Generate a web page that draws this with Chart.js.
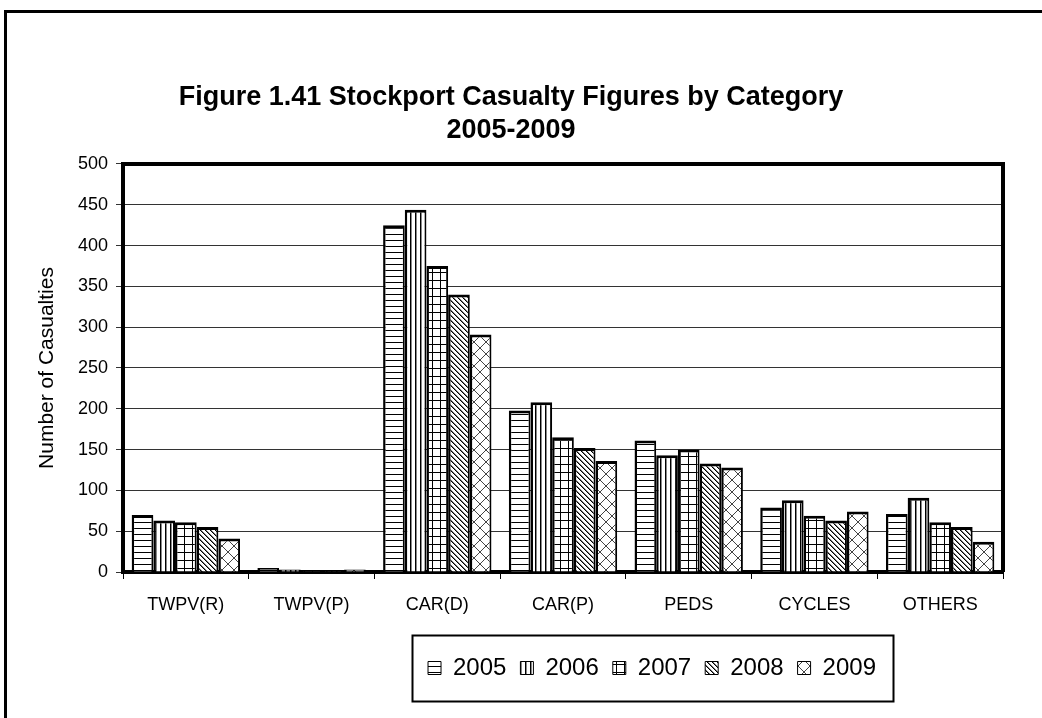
<!DOCTYPE html>
<html>
<head>
<meta charset="utf-8">
<script src="https://cdn.jsdelivr.net/npm/chart.js@4.4.0/dist/chart.umd.min.js"></script>
<style>
    html, body { margin: 0; padding: 0; background: #fff; }
</style>
</head>
<body>
<canvas id="myChartCasualty" width="1042" height="718"></canvas>
<script>

const categories = ['TWPV(R)', 'TWPV(P)', 'CAR(D)', 'CAR(P)', 'PEDS', 'CYCLES', 'OTHERS'];
const years = ['2005', '2006', '2007', '2008', '2009'];

const cas2005 = [70, 5, 425, 198, 161, 79, 71];
const cas2006 = [63, 3, 444, 208, 143, 88, 91];
const cas2007 = [61, 1, 375, 165, 150, 69, 61];
const cas2008 = [55, 1, 340, 152, 133, 63, 55];
const cas2009 = [41, 3, 291, 136, 128, 74, 37];

const yMin = 0;
const yMax = 500;
const yStep = 50;

const titleLines = ['Figure 1.41 Stockport Casualty Figures by Category', '2005-2009'];
const yTitle = 'Number of Casualties';

const FONT = "'Liberation Sans', Arial, sans-serif";

// fill patterns, one per year (excel style hatching)
function makePattern(kind) {
    const c = document.createElement('canvas');
    const g = c.getContext('2d');
    let s = 6;
    if (kind === 'horiz') s = 6;
    if (kind === 'vert') s = 5;
    if (kind === 'grid') s = 8;
    if (kind === 'diag') s = 5;
    if (kind === 'cross') s = 12;
    c.width = s; c.height = s;
    g.fillStyle = '#fff';
    g.fillRect(0, 0, s, s);
    g.fillStyle = '#000';
    if (kind === 'horiz') {
        g.fillRect(0, 0, s, 1);
    } else if (kind === 'vert') {
        g.fillRect(0, 0, 1, s);
        g.fillStyle = '#888';
        g.fillRect(1, 0, 1, s);
    } else if (kind === 'grid') {
        g.fillRect(0, 0, s, 1);
        g.fillRect(0, 0, 1, s);
    } else if (kind === 'diag') {
        for (let i = 0; i < s; i++) {
            g.fillStyle = '#000';
            g.fillRect(i, i, 1, 1);
            g.fillStyle = '#777';
            g.fillRect((i + 1) % s, i, 1, 1);
        }
    } else if (kind === 'cross') {
        g.fillStyle = '#444';
        for (let i = 0; i < s; i++) {
            g.fillRect(i, i, 1, 1);
            g.fillRect(s - 1 - i, i, 1, 1);
        }
    }
    return g.createPattern(c, 'repeat');
}

const patterns = [makePattern('horiz'), makePattern('vert'), makePattern('grid'), makePattern('diag'), makePattern('cross')];
const seriesData = [cas2005, cas2006, cas2007, cas2008, cas2009];

const framePlugin = {
    id: 'frame',
    beforeDraw(chart) {
        const c = chart.ctx;
        c.save();
        c.fillStyle = '#fff';
        c.fillRect(0, 0, chart.width, chart.height);
        c.strokeStyle = '#000';
        c.lineWidth = 3;
        c.strokeRect(5.5, 11.5, 1200, 900);
        c.restore();
    },
    afterDraw(chart) {
        const c = chart.ctx;
        const a = chart.chartArea;
        c.save();
        c.strokeStyle = '#000';
        c.lineWidth = 4;
        c.beginPath();
        c.moveTo(a.left, a.top);
        c.lineTo(a.right, a.top);
        c.lineTo(a.right, a.bottom);
        c.stroke();
        // box around legend
        const lg = chart.legend;
        if (lg && lg.legendHitBoxes.length) {
            const hb = lg.legendHitBoxes;
            const l = Math.min(...hb.map(h => h.left));
            const r = Math.max(...hb.map(h => h.left + h.width));
            const cx = (l + r) / 2;
            const cy = hb[0].top + hb[0].height / 2;
            c.lineWidth = 2;
            c.strokeRect(Math.round(cx - 240.5) + 0.5, Math.round(cy - 33) + 0.5, 481, 66);
        }
        c.restore();
    }
};

// move legend and title sideways, like the excel one
const shiftBoxes = {
    id: 'shiftBoxes',
    afterLayout(chart) {
        const lg = chart.legend;
        const dx = 652 - (lg.left + lg.right) / 2;
        lg.left += dx;
        lg.right += dx;
        const tb = chart.titleBlock;
        if (tb) {
            const tx = 511 - (tb.left + tb.right) / 2;
            tb.left += tx;
            tb.right += tx;
        }
    }
};

const ctxCas = document.getElementById('myChartCasualty').getContext('2d');
const myChartCas = new Chart(ctxCas, {
    type: 'bar',
    data: {
        labels: categories,
        datasets: years.map((y, i) => ({
            label: y,
            data: seriesData[i],
            backgroundColor: patterns[i],
            borderColor: '#000',
            borderWidth: { top: 3, left: 2.5, right: 2, bottom: 0 },
            borderSkipped: 'start',
            categoryPercentage: 0.862,
            barPercentage: 1.0
        }))
    },
    options: {
        responsive: false,
        animation: false,
        events: [],
        layout: { padding: { left: 0, right: 39, top: 0, bottom: 28 } },
        plugins: {
            title: {
                display: true,
                text: titleLines,
                color: '#000',
                font: { family: FONT, size: 27, weight: 'bold', lineHeight: 1.222 },
                padding: { top: 81.5, bottom: 16.5 }
            },
            legend: {
                position: 'bottom',
                labels: {
                    color: '#000',
                    font: { family: FONT, size: 24 },
                    boxWidth: 13,
                    boxHeight: 13,
                    padding: 14,
                    generateLabels(chart) {
                        const items = Chart.defaults.plugins.legend.labels.generateLabels(chart);
                        items.forEach(it => { it.lineWidth = 1; });
                        return items;
                    }
                }
            },
            tooltip: { enabled: false }
        },
        scales: {
            x: {
                grid: { display: true, drawOnChartArea: false, drawTicks: true, tickLength: 7, color: '#000', lineWidth: 1, offset: true },
                border: { color: '#000', width: 4 },
                ticks: { color: '#000', font: { family: FONT, size: 18 }, padding: 15, maxRotation: 0, autoSkip: false },
                afterFit(s) { s.height = 70; }
            },
            y: {
                min: yMin,
                max: yMax,
                ticks: { stepSize: yStep, color: '#000', font: { family: FONT, size: 18 }, padding: 8 },
                grid: { color: '#333', lineWidth: 1, tickLength: 7 },
                border: { color: '#000', width: 4 },
                title: { display: true, text: yTitle, color: '#000', font: { family: FONT, size: 21 }, padding: { top: 35, bottom: 0 } },
                afterFit(s) { s.width = 123; }
            }
        }
    },
    plugins: [framePlugin, shiftBoxes]
});

</script>
</body>
</html>
